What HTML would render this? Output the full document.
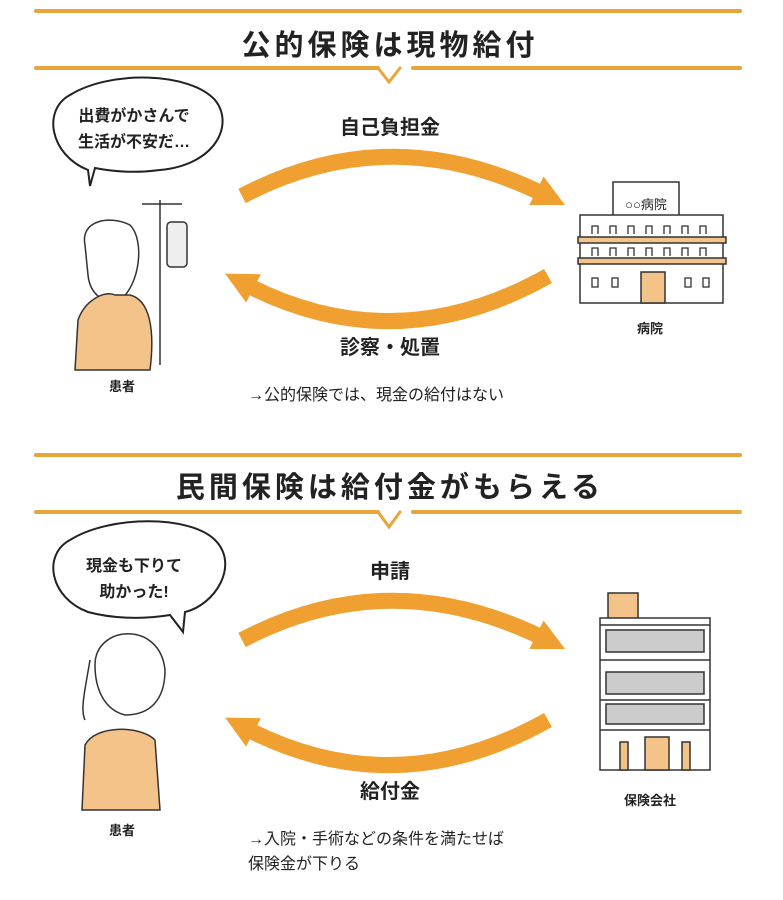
<!DOCTYPE html>
<html><head><meta charset="utf-8"><style>
body{margin:0;background:#fff;width:783px;height:895px;overflow:hidden}
svg text{font-family:"Liberation Sans","Noto Sans CJK JP",sans-serif;fill:#222}
</style></head><body>
<svg width="783" height="895" viewBox="0 0 783 895">
<defs><marker id="ah" markerWidth="2" markerHeight="2" refX="0.6" refY="1" orient="auto" markerUnits="strokeWidth"><path d="M0,0 L2,1 L0,2Z" fill="#f0a030"/></marker></defs>
<g stroke="#e9a43a" stroke-width="4" fill="none" stroke-linecap="round">
<line x1="36" y1="11" x2="740" y2="11"/>
<line x1="36" y1="68" x2="378" y2="68"/><polyline points="378,68 389,82 400,68" stroke-width="3"/><line x1="413" y1="68" x2="740" y2="68"/>
<line x1="36" y1="455" x2="740" y2="455"/>
<line x1="36" y1="512" x2="378" y2="512"/><polyline points="378,512 389,527 400,512" stroke-width="3"/><line x1="413" y1="512" x2="740" y2="512"/>
</g>
<text x="390" y="55" font-size="29" font-weight="bold" text-anchor="middle" letter-spacing="4">公的保険は現物給付</text>
<text x="390" y="497" font-size="29" font-weight="bold" text-anchor="middle" letter-spacing="4">民間保険は給付金がもらえる</text>
<g fill="#fff" stroke="#222" stroke-width="2">
<path d="M88,170 C50,155 42,110 70,95 C110,70 190,72 215,100 C235,125 215,165 160,170 C130,174 105,170 95,168 L90,186 Z"/>
<path d="M88,612 C50,598 42,555 70,540 C110,515 190,515 215,540 C240,565 215,605 185,612 L183,632 L170,615 C140,620 110,618 88,612Z"/>
</g>
<g font-weight="bold" font-size="16" text-anchor="middle">
<text x="134" y="121">出費がかさんで</text>
<text x="134" y="147">生活が不安だ…</text>
<text x="134" y="571">現金も下りて</text>
<text x="134" y="597">助かった!</text>
</g>
<g fill="none" stroke="#f0a030" stroke-width="16">
<path d="M242,196 Q390,118 545,195" marker-end="url(#ah)"/>
<path d="M548,276 Q395,362 245,284" marker-end="url(#ah)"/>
<path d="M242,640 Q390,562 545,639" marker-end="url(#ah)"/>
<path d="M548,720 Q395,806 245,728" marker-end="url(#ah)"/>
</g>
<text x="390" y="134" font-size="20" font-weight="bold" text-anchor="middle">自己負担金</text>
<text x="390" y="354" font-size="20" font-weight="bold" text-anchor="middle">診察・処置</text>
<text x="390" y="578" font-size="20" font-weight="bold" text-anchor="middle">申請</text>
<text x="390" y="798" font-size="20" font-weight="bold" text-anchor="middle">給付金</text>
<text x="122" y="391" font-size="13" font-weight="bold" text-anchor="middle">患者</text>
<text x="122" y="835" font-size="13" font-weight="bold" text-anchor="middle">患者</text>
<text x="650" y="333" font-size="13" font-weight="bold" text-anchor="middle">病院</text>
<text x="650" y="805" font-size="13" font-weight="bold" text-anchor="middle">保険会社</text>
<text x="248" y="400" font-size="16" fill="#333">→公的保険では、現金の給付はない</text>
<text x="248" y="844" font-size="16" fill="#333">→入院・手術などの条件を満たせば</text>
<text x="248" y="869" font-size="16" fill="#333">保険金が下りる</text>
<g stroke="#333" stroke-width="1.5" fill="none">
<line x1="160" y1="200" x2="160" y2="365"/><line x1="142" y1="204" x2="182" y2="204"/>
<rect x="167" y="222" width="20" height="45" rx="4" fill="#eee"/>
<path d="M85,245 C80,220 110,215 130,225 C145,240 140,285 120,300 C105,305 90,295 88,275Z" fill="#fff"/>
<path d="M75,370 L78,320 C85,300 105,290 115,295 L130,295 C150,300 155,330 150,370Z" fill="#f4c38a"/>
</g>
<g stroke="#333" stroke-width="1.5" fill="#fff">
<rect x="613" y="182" width="66" height="35"/>
<rect x="580" y="215" width="143" height="88"/>
<rect x="578" y="237" width="148" height="6" fill="#f4c38a"/>
<rect x="578" y="258" width="148" height="6" fill="#f4c38a"/>
<rect x="641" y="272" width="24" height="31" fill="#f4c38a"/>
</g>
<g stroke="#333" stroke-width="1.3" fill="none">
<path d="M592,234v-8h6v8M610,234v-8h6v8M628,234v-8h6v8M646,234v-8h6v8M664,234v-8h6v8M682,234v-8h6v8M700,234v-8h6v8"/>
<path d="M592,256v-8h6v8M610,256v-8h6v8M628,256v-8h6v8M646,256v-8h6v8M664,256v-8h6v8M682,256v-8h6v8M700,256v-8h6v8"/>
<rect x="592" y="278" width="6" height="9"/><rect x="612" y="278" width="6" height="9"/><rect x="685" y="278" width="6" height="9"/><rect x="703" y="278" width="6" height="9"/>
</g>
<text x="646" y="209" font-size="13" text-anchor="middle">○○病院</text>
<g stroke="#333" stroke-width="1.5">
<path d="M95,665 C95,625 160,620 165,670 C165,700 150,715 125,715 C105,710 95,690 95,665Z" fill="#fff"/>
<path d="M90,660 C85,690 80,710 85,720" fill="none"/>
<path d="M82,810 L85,745 C95,725 140,725 155,740 L160,810Z" fill="#f4c38a"/>
</g>
<g stroke="#333" stroke-width="1.5">
<rect x="608" y="593" width="30" height="27" fill="#f4c38a"/>
<rect x="600" y="618" width="110" height="152" fill="#fff"/>
<line x1="600" y1="625" x2="710" y2="625"/><line x1="600" y1="660" x2="710" y2="660"/><line x1="600" y1="700" x2="710" y2="700"/><line x1="600" y1="730" x2="710" y2="730"/>
<rect x="606" y="630" width="98" height="22" fill="#ccc"/>
<rect x="606" y="672" width="98" height="22" fill="#ccc"/>
<rect x="606" y="704" width="98" height="20" fill="#ccc"/>
<rect x="645" y="737" width="24" height="33" fill="#f4c38a"/>
<rect x="620" y="742" width="8" height="28" fill="#f4c38a"/>
<rect x="682" y="742" width="8" height="28" fill="#f4c38a"/>
</g>
</svg>
</body></html>
